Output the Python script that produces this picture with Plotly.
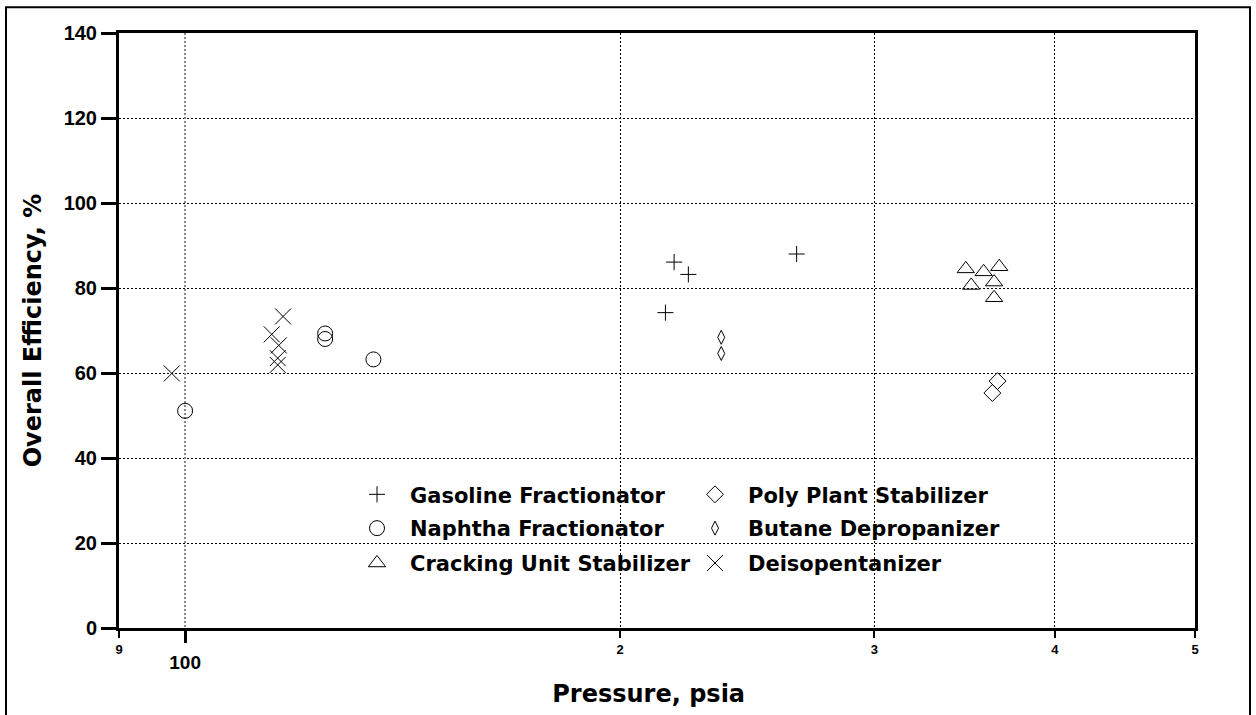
import plotly.graph_objects as go
import math

# ---- data ----
gas_x = [218, 223, 265, 215]
gas_y = [86.1, 83.2, 88.0, 74.2]

poly_x = [365, 362]
poly_y = [58.1, 55.3]

naph_x = [100, 125, 125, 135]
naph_y = [51.1, 69.3, 68.0, 63.2]

but_x = [235, 235]
but_y = [68.4, 64.6]

crack_x = [347, 357, 366, 350, 363, 363]
crack_y = [84.5, 83.8, 85.0, 80.6, 81.4, 77.7]

deiso_x = [97.9, 114.8, 116.9, 116.1, 115.9, 115.9]
deiso_y = [59.9, 69.1, 73.3, 66.5, 63.5, 61.9]

x_minor_vals = [90, 200, 300, 400, 500]
x_minor_text = ["9", "2", "3", "4", "5"]
x_major_vals = [100]
x_major_text = ["100"]
y_ticks = [0, 20, 40, 60, 80, 100, 120, 140]

XR = [math.log10(90), math.log10(500)]

LEG_FONT = dict(family="DejaVu Sans", size=21, color="black", weight="bold")
TITLE_FONT = dict(family="DejaVu Sans", size=24, color="black", weight="bold")

fig = go.Figure()

def add(name, xs, ys, symbol, size, legend, xaxis="x"):
    fig.add_trace(go.Scatter(
        x=xs, y=ys, mode="markers", name=name, legend=legend, xaxis=xaxis, yaxis="y",
        marker=dict(symbol=symbol, size=size, color="black",
                    line=dict(color="black", width=1)),
    ))

add("Gasoline Fractionator", gas_x, gas_y, "cross-thin", 11.5, "legend")
add("Poly Plant Stabilizer", poly_x, poly_y, "diamond-open", 13, "legend")
# drawn on the overlaid axis (identical range) so that axis is rendered
add("Naphtha Fractionator", naph_x, naph_y, "circle-open", 15, "legend2", xaxis="x2")
add("Butane Depropanizer", but_x, but_y, "diamond-tall-open", 10, "legend2")
add("Cracking Unit Stabilizer", crack_x, crack_y, "triangle-up-open", 15, "legend3")
add("Deisopentanizer", deiso_x, deiso_y, "x-thin", 16, "legend3")

grid_dash = "2px,2px"
LX = (344 - 119) / 1076
EW = 267
IW = 56

fig.update_layout(
    width=1256, height=715, autosize=False,
    margin=dict(l=119, r=61, t=33, b=84),
    paper_bgcolor="white", plot_bgcolor="white",
    showlegend=True,
    xaxis=dict(
        type="log", range=XR,
        tickvals=x_minor_vals, ticktext=x_minor_text,
        ticks="outside", ticklen=7, tickwidth=2, tickcolor="black",
        showline=True, linewidth=3, linecolor="black", mirror=True,
        showgrid=True, gridcolor="black", gridwidth=1, griddash=grid_dash,
        tickfont=dict(family="Liberation Sans", size=13, color="black", weight="bold"),
        title=dict(text="Pressure, psia&nbsp;&nbsp;", standoff=30, font=TITLE_FONT),
        zeroline=False,
    ),
    xaxis2=dict(
        type="log", range=XR, overlaying="x", anchor="y", side="bottom",
        tickvals=x_major_vals, ticktext=x_major_text,
        ticks="outside", ticklen=14, tickwidth=3, tickcolor="black",
        showline=False, showgrid=True, gridcolor="#888888", gridwidth=2, griddash=grid_dash,
        tickfont=dict(family="Liberation Sans", size=19, color="black", weight="bold"),
        ticklabelstandoff=3,
    ),
    yaxis=dict(
        range=[0, 140], tickvals=y_ticks,
        ticks="outside", ticklen=15, tickwidth=3, tickcolor="black",
        showline=True, linewidth=3, linecolor="black", mirror=True,
        showgrid=True, gridcolor="black", gridwidth=1, griddash=grid_dash,
        tickfont=dict(family="Liberation Sans", size=20, color="black", weight="bold"),
        ticklabelstandoff=0,
        title=dict(text="Overall Efficiency, %", standoff=16, font=TITLE_FONT),
        zeroline=False,
    ),
    legend=dict(orientation="h", x=LX, y=(631 - 497) / 598, xanchor="left", yanchor="middle",
                entrywidth=EW, itemwidth=IW, font=LEG_FONT, bgcolor="rgba(0,0,0,0)",
                traceorder="normal"),
    legend2=dict(orientation="h", x=LX, y=(631 - 531) / 598, xanchor="left", yanchor="middle",
                 entrywidth=EW, itemwidth=IW, font=LEG_FONT, bgcolor="rgba(0,0,0,0)",
                 traceorder="normal"),
    legend3=dict(orientation="h", x=LX, y=(631 - 566) / 598, xanchor="left", yanchor="middle",
                 entrywidth=EW, itemwidth=IW, font=LEG_FONT, bgcolor="rgba(0,0,0,0)",
                 traceorder="normal"),
    shapes=[
        dict(type="rect", xref="paper", yref="paper",
             x0=(335 - 119) / 1076, x1=(1033 - 119) / 1076,
             y0=(631 - 582) / 598, y1=(631 - 478) / 598,
             fillcolor="white", line=dict(width=0), layer="between"),
        dict(type="rect", xref="paper", yref="paper",
             x0=(6 - 119) / 1076, x1=(1250 - 119) / 1076,
             y0=-0.17, y1=(631 - 7) / 598,
             fillcolor="rgba(0,0,0,0)", line=dict(color="black", width=2), layer="above"),
    ],
)

fig.write_html("out.html")
